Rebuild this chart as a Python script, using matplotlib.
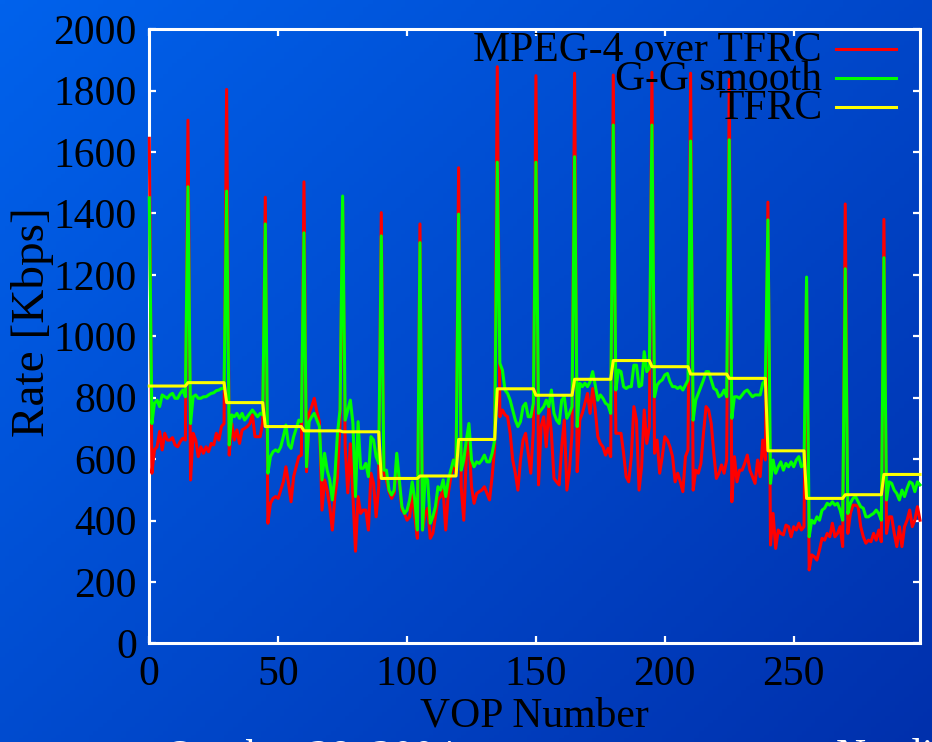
import numpy as np
import matplotlib
matplotlib.use("Agg")
import matplotlib.pyplot as plt
from matplotlib.lines import Line2D

# ---------------- data ----------------
frames = list(range(300))

mpeg4_tfrc = [
    1645, 554, 630, 640, 690, 630, 684, 662, 662, 670, 646, 640, 657, 668, 662,
    1704, 532, 684, 662, 608, 640, 619, 640, 624, 651, 646, 684, 662, 706, 716,
    1804, 613, 716, 662, 695, 651, 695, 700, 706, 716, 744, 673, 673, 673, 720,
    1453, 391, 456, 472, 478, 472, 499, 526, 575, 521, 461, 543, 575, 608, 613,
    1503, 559, 749, 771, 798, 754, 722, 434, 532, 499, 445, 369, 478, 540, 720,
    1440, 640, 490, 650, 480, 300, 478, 423, 434, 434, 369, 554, 521, 412, 510,
    1403, 554, 532, 494, 472, 488, 597, 521, 434, 423, 401, 412, 488, 412, 342,
    1366, 369, 420, 440, 342, 358, 412, 467, 478, 499, 369, 488, 543, 597, 554,
    1549, 510, 401, 608, 662, 510, 456, 488, 494, 499, 510, 488, 467, 543, 640,
    1878, 738, 760, 744, 738, 684, 597, 554, 499, 597, 662, 684, 619, 554, 695,
    1849, 516, 706, 738, 640, 771, 684, 537, 526, 516, 640, 727, 499, 564, 684,
    1857, 559, 727, 749, 782, 814, 749, 830, 760, 673, 651, 640, 613, 635, 608,
    1851, 684, 684, 684, 619, 543, 526, 608, 771, 727, 499, 575, 760, 651, 706,
    1860, 619, 662, 554, 608, 673, 662, 640, 608, 526, 554, 526, 494, 608, 630,
    1857, 499, 564, 554, 586, 684, 771, 760, 716, 619, 537, 554, 581, 554, 597,
    1837, 461, 608, 526, 564, 564, 586, 613, 564, 543, 521, 597, 543, 662, 597,
    1437, 320, 423, 309, 369, 358, 353, 385, 380, 347, 380, 369, 391, 369, 380,
    1180, 239, 288, 282, 271, 304, 342, 336, 358, 347, 391, 347, 358, 380, 315,
    1431, 358, 423, 450, 450, 445, 380, 347, 326, 336, 331, 358, 336, 369, 331,
    1381, 358, 412, 412, 358, 315, 380, 315, 380, 401, 434, 380, 401, 445, 401,
]

gg_smooth = [
    1451, 716, 782, 792, 771, 809, 803, 798, 809, 814, 798, 798, 814, 825, 803,
    1487, 716, 803, 809, 798, 798, 803, 803, 809, 814, 816, 823, 825, 830, 830,
    1473, 646, 744, 738, 749, 733, 749, 727, 738, 749, 760, 749, 738, 749, 744,
    1366, 554, 608, 624, 630, 624, 640, 673, 711, 646, 635, 673, 700, 727, 722,
    1337, 575, 722, 738, 749, 727, 706, 532, 619, 564, 532, 467, 543, 684, 760,
    1457, 727, 760, 792, 716, 478, 722, 570, 570, 586, 543, 673, 662, 608, 586,
    1327, 564, 564, 499, 483, 499, 619, 532, 445, 423, 434, 467, 526, 467, 369,
    1305, 369, 543, 532, 391, 412, 445, 510, 499, 532, 478, 532, 564, 597, 575,
    1398, 564, 597, 662, 716, 597, 575, 591, 586, 597, 613, 591, 591, 619, 662,
    1567, 912, 890, 825, 814, 792, 760, 727, 706, 722, 771, 782, 738, 738, 782,
    1567, 749, 760, 771, 792, 771, 825, 749, 727, 716, 792, 803, 733, 749, 771,
    1585, 706, 847, 836, 847, 836, 852, 885, 841, 792, 809, 798, 782, 776, 749,
    1688, 825, 890, 885, 836, 830, 836, 836, 906, 906, 836, 841, 950, 885, 896,
    1688, 803, 841, 852, 858, 874, 879, 852, 836, 836, 830, 836, 825, 841, 858,
    1636, 727, 792, 814, 836, 858, 885, 885, 858, 830, 825, 803, 809, 825, 803,
    1640, 733, 803, 803, 798, 809, 820, 825, 814, 803, 809, 809, 809, 847, 858,
    1379, 521, 597, 554, 575, 591, 564, 586, 575, 591, 575, 597, 608, 575, 581,
    1193, 347, 401, 391, 412, 401, 434, 440, 456, 450, 461, 450, 456, 434, 401,
    1220, 423, 456, 472, 478, 461, 445, 440, 412, 412, 418, 423, 434, 423, 401,
    1256, 467, 526, 521, 499, 488, 467, 499, 478, 505, 526, 521, 494, 526, 516,
]

tfrc = [
    838, 838, 838, 838, 838, 838, 838, 838, 838, 838, 838, 838, 838, 838, 838,
    849, 849, 849, 849, 849, 849, 849, 849, 849, 849, 849, 849, 849, 849, 849,
    784, 784, 784, 784, 784, 784, 784, 784, 784, 784, 784, 784, 784, 784, 784,
    706, 706, 706, 706, 706, 706, 706, 706, 706, 706, 706, 706, 706, 706, 706,
    692, 692, 692, 692, 692, 692, 692, 692, 692, 692, 692, 692, 692, 692, 692,
    689, 689, 689, 689, 689, 689, 689, 689, 689, 689, 689, 689, 689, 689, 689,
    537, 537, 537, 537, 537, 537, 537, 537, 537, 537, 537, 537, 537, 537, 537,
    545, 545, 545, 545, 545, 545, 545, 545, 545, 545, 545, 545, 545, 545, 545,
    664, 664, 664, 664, 664, 664, 664, 664, 664, 664, 664, 664, 664, 664, 664,
    829, 829, 829, 829, 829, 829, 829, 829, 829, 829, 829, 829, 829, 829, 829,
    808, 808, 808, 808, 808, 808, 808, 808, 808, 808, 808, 808, 808, 808, 808,
    860, 860, 860, 860, 860, 860, 860, 860, 860, 860, 860, 860, 860, 860, 860,
    921, 921, 921, 921, 921, 921, 921, 921, 921, 921, 921, 921, 921, 921, 921,
    901, 901, 901, 901, 901, 901, 901, 901, 901, 901, 901, 901, 901, 901, 901,
    877, 877, 877, 877, 877, 877, 877, 877, 877, 877, 877, 877, 877, 877, 877,
    863, 863, 863, 863, 863, 863, 863, 863, 863, 863, 863, 863, 863, 863, 863,
    627, 627, 627, 627, 627, 627, 627, 627, 627, 627, 627, 627, 627, 627, 627,
    472, 472, 472, 472, 472, 472, 472, 472, 472, 472, 472, 472, 472, 472, 472,
    484, 484, 484, 484, 484, 484, 484, 484, 484, 484, 484, 484, 484, 484, 484,
    550, 550, 550, 550, 550, 550, 550, 550, 550, 550, 550, 550, 550, 550, 550,
]

series_labels = ["MPEG-4 over TFRC", "G-G smooth", "TFRC"]
series_colors = ["#ff0000", "#00ff00", "#ffff00"]
x_ticks = [0, 50, 100, 150, 200, 250]
y_ticks = [0, 200, 400, 600, 800, 1000, 1200, 1400, 1600, 1800, 2000]

# ---------------- figure ----------------
W, H = 932, 742
fig = plt.figure(figsize=(W / 100, H / 100), dpi=100)
plt.rcParams["font.family"] = ["Liberation Serif", "DejaVu Serif"]

# diagonal blue gradient background
bg = fig.add_axes([0, 0, 1, 1], zorder=0)
gy, gx = np.mgrid[0:1:200j, 0:1:200j]
t = (gx * 0.55 + gy * 0.45)
c0 = np.array([0, 98, 236]) / 255.0
c1 = np.array([0, 48, 172]) / 255.0
img = c0[None, None, :] * (1 - t[..., None]) + c1[None, None, :] * t[..., None]
bg.imshow(img, aspect="auto", extent=[0, 1, 0, 1], origin="upper")
bg.set_axis_off()

ax = fig.add_axes([149.3 / W, 1 - 643.3 / H, (920 - 149.3) / W, (643.3 - 29.3) / H], zorder=1)
ax.patch.set_alpha(0)

lw = 2.2
ax.plot(frames, mpeg4_tfrc, color=series_colors[0], lw=lw, zorder=3, clip_on=False)
ax.plot(frames, gg_smooth, color=series_colors[1], lw=lw, zorder=3.1, clip_on=False)
ax.plot(frames, tfrc, color=series_colors[2], lw=lw, zorder=3.2, clip_on=False)

ax.set_xlim(0, 299)
ax.set_ylim(0, 2000)
ax.set_xticks(x_ticks)
ax.set_yticks(y_ticks)
for s in ax.spines.values():
    s.set_color("white")
    s.set_linewidth(2.2)
ax.tick_params(direction="in", length=5, width=1.6, color="white",
               top=True, right=True, labelsize=30, labelcolor="black", pad=9)
ax.set_xlabel("VOP Number", fontsize=30, color="black")
ax.xaxis.set_label_coords(0.5, -(697 - 643.3) / 614.0)
ax.set_ylabel("Rate [Kbps]", fontsize=34, color="black")
ax.yaxis.set_label_coords((11 - 149.3) / 770.7, (643.3 - 322) / 614.0)
ax.yaxis.label.set_va("top")

# legend (gnuplot style, top right)
ys = [49, 78, 107]
for lab, col, y in zip(series_labels, series_colors, ys):
    fig.text(822 / W, 1 - (y + 2) / H, lab, ha="right", va="center",
             fontsize=30, color="black", zorder=5)
    fig.add_artist(Line2D([836 / W, 896 / W], [1 - y / H, 1 - y / H],
                          color=col, lw=lw, zorder=5))

# footer text (cut by the figure edge, as in the original slide)
fig.text(165 / W, 1 - 738.5 / H, "October 28, 2004", ha="left", va="top",
         fontsize=30, color="white")
fig.text(836 / W, 1 - 738.5 / H, "Nordic Web", ha="left", va="top",
         fontsize=30, color="white")

fig.savefig("out.png", dpi=100)
